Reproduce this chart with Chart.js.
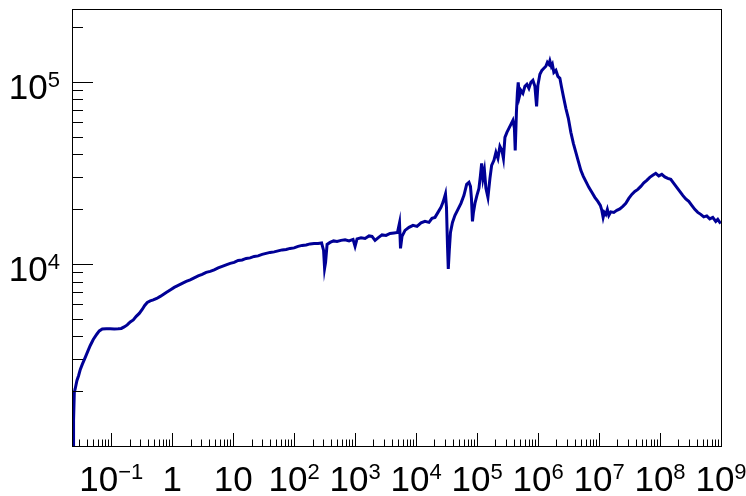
<!DOCTYPE html>
<html>
<head>
<meta charset="utf-8">
<script src="https://cdn.jsdelivr.net/npm/chart.js@4.4.0/dist/chart.umd.min.js"></script>
<style>
  body { margin: 0; background: #fff; }
  #wrap { width: 746px; height: 496px; }
</style>
</head>
<body>
<div id="wrap"><canvas id="spectrum"></canvas></div>
<script>
// values (log-log spectrum)
const energy = [
  0.0236, 0.0241, 0.0248, 0.0257, 0.0274, 0.0292, 0.0311, 0.0335, 0.0375, 0.0412,
  0.0453, 0.0507, 0.0583, 0.0637, 0.0713, 0.0829, 0.0964, 0.112, 0.130, 0.146,
  0.163, 0.183, 0.205, 0.230, 0.257, 0.288, 0.322, 0.354, 0.390, 0.436,
  0.489, 0.557, 0.636, 0.712, 0.797, 0.927, 1.078, 1.254, 1.458, 1.696,
  1.972, 2.294, 2.667, 3.101, 3.606, 4.195, 4.877, 5.672, 6.596, 7.67,
  8.92, 10.37, 12.06, 14.03, 16.31, 18.97, 22.06, 25.65, 29.83, 34.7,
  40.35, 46.9, 54.55, 63.45, 73.8, 85.8, 99.8, 116, 135, 157,
  182.5, 212, 246.7, 281.6, 303.7, 315.4, 327.5, 346.6, 388, 443,
  505, 588, 684, 795, 924, 997, 1074, 1250, 1453, 1690,
  1892, 2120, 2374, 2760, 3210, 3733, 4341, 4954, 5343, 5546,
  5870, 6575, 7643, 8892, 10337, 12023, 13980, 16255, 18200, 20390,
  22830, 25565, 27570, 29170, 30300, 31470, 32680, 33690, 34990, 36590,
  39450, 43350, 48550, 54370, 60900, 67440, 73560, 77870, 80800, 83930,
  87100, 92210, 99450, 107200, 113500, 118750, 124700, 131900, 139600, 150600,
  162400, 173200, 188900, 203700, 219600, 236800, 255400, 270300, 286100, 308300,
  332400, 358600, 386700, 409300, 421900, 441400, 458300, 472400, 494300, 523100,
  564100, 608100, 655900, 707400, 762800, 822400, 887100, 945600, 993100, 1071000,
  1155000, 1246000, 1343000, 1421000, 1504000, 1562000, 1652000, 1717000, 1816000, 1959000,
  2113000, 2279000, 2410000, 2600000, 2857000, 3138000, 3449000, 3791000, 4165000, 4577000,
  5030000, 5523000, 6074000, 6805000, 7621000, 8531000, 9550000, 10500000, 11110000, 11670000,
  12220000, 12920000, 13680000, 14470000, 15600000, 17470000, 19570000, 21910000, 24550000, 27480000,
  30760000, 34440000, 38600000, 43250000, 48400000, 54200000, 60670000, 67920000, 76030000, 85110000,
  95400000, 106900000, 119700000, 134000000, 150000000, 168100000, 188200000, 210900000, 236000000, 264300000,
  296000000, 331400000, 371500000, 416000000, 465600000, 521800000, 584300000, 654600000, 732800000, 820400000,
  885100000, 954600000, 1000000000
];
const counts = [
  1020, 1380, 1968, 2070, 2291, 2440, 2632, 2805, 3064, 3307,
  3565, 3846, 4124, 4285, 4395, 4405, 4405, 4395, 4405, 4422,
  4508, 4623, 4800, 4923, 5150, 5346, 5623, 5916, 6144, 6263,
  6340, 6463, 6629, 6795, 6970, 7197, 7430, 7620, 7816, 8015,
  8166, 8376, 8592, 8757, 8982, 9095, 9268, 9506, 9689, 9874,
  10063, 10190, 10452, 10519, 10720, 10790, 10995, 11066, 11276, 11420,
  11565, 11641, 11788, 11938, 12014, 12167, 12246, 12479, 12637, 12717,
  12879, 12960, 12960, 13043, 11864, 9447, 10190, 12797, 13122, 13378,
  13294, 13466, 13553, 13378, 13637, 12479, 13722, 13899, 13804, 14251,
  14159, 13466, 13899, 14432, 14341, 14710, 14803, 14896, 16801, 12167,
  14159, 15276, 15867, 16273, 16069, 16801, 17122, 16904, 17783, 18010,
  19187, 20437, 21777, 23198, 24240, 20437, 12637, 9387, 11864, 14896,
  16904, 18475, 19934, 21500, 23783, 27346, 28040, 26660, 22910, 17122,
  19187, 21500, 23783, 25990, 30640, 35660, 29500, 32640, 25990, 23198,
  29500, 34770, 37040, 41000, 37990, 44220, 42030, 37990, 49540, 52790,
  55540, 58420, 61440, 55540, 42030, 67990, 87580, 99380, 83240, 89810,
  86460, 94470, 96900, 92100, 99380, 101900, 94470, 73350, 95680, 109950,
  115660, 118660, 121700, 127990, 124800, 130470, 121700, 124800, 112760, 115660,
  107200, 104520, 94470, 83240, 71530, 63030, 52790, 45920, 41000, 36580,
  32640, 30260, 28400, 26320, 24720, 23198, 22050, 20960, 19680, 18010,
  19187, 18710, 19934, 18475, 19310, 19187, 19680, 20060, 20700, 21500,
  22900, 24090, 25020, 25660, 26660, 27860, 28760, 29880, 30640, 31430,
  30450, 31030, 30060, 29500, 29130, 27690, 26320, 25020, 23783, 22760,
  22050, 20960, 19934, 19187, 18710, 18130, 18360, 17680, 18010, 17122,
  17560, 16904, 17122
];

const xRange = [0.0236, 1e9];
const yRange = [1000, 2.48e5];

// labelled decades: base text and superscript
const xMajorTicks = [0.1, 1, 10, 1e2, 1e3, 1e4, 1e5, 1e6, 1e7, 1e8, 1e9];
const xTickBase = ['10', '1', '10', '10', '10', '10', '10', '10', '10', '10', '10'];
const xTickExp = ['\u22121', '', '', '2', '3', '4', '5', '6', '7', '8', '9'];
const yMajorTicks = [1e4, 1e5];
const yTickBase = ['10', '10'];
const yTickExp = ['4', '5'];

const FONT = '"Liberation Sans", Arial, Helvetica, sans-serif';
const BASE_SIZE = 35;
const EXP_SIZE = 22;

function labelWidth(ctx, base, exp) {
    ctx.font = BASE_SIZE + 'px ' + FONT;
    let w = ctx.measureText(base).width;
    if (exp) {
        ctx.font = EXP_SIZE + 'px ' + FONT;
        w += ctx.measureText(exp).width;
    }
    return w;
}

function drawLabel(ctx, base, exp, left, baseline) {
    ctx.font = BASE_SIZE + 'px ' + FONT;
    ctx.fillText(base, left, baseline);
    if (exp) {
        const bw = ctx.measureText(base).width;
        ctx.font = EXP_SIZE + 'px ' + FONT;
        ctx.fillText(exp, left + bw, baseline - 12);
    }
}

// ROOT-like frame, inner ticks and labels
const rootAxes = {
    id: 'rootAxes',
    afterDraw(chart) {
        const { ctx, chartArea: a, scales: { x, y } } = chart;
        ctx.save();
        ctx.strokeStyle = '#000';
        ctx.lineWidth = 1;
        ctx.strokeRect(a.left - 0.5, a.top - 0.5, a.right - a.left + 1, a.bottom - a.top + 1);

        ctx.beginPath();
        for (let d = -2; d <= 9; d++) {
            for (let m = 1; m <= 9; m++) {
                const v = m * Math.pow(10, d);
                if (v <= xRange[0] || v >= xRange[1]) continue;
                const px = Math.round(x.getPixelForValue(v)) + 0.5;
                const len = m === 1 ? 13 : 6.5;
                ctx.moveTo(px, a.bottom);
                ctx.lineTo(px, a.bottom - len);
            }
        }
        for (let d = 3; d <= 5; d++) {
            for (let m = 1; m <= 9; m++) {
                const v = m * Math.pow(10, d);
                if (v <= yRange[0] || v >= yRange[1]) continue;
                const py = Math.round(y.getPixelForValue(v)) + 0.5;
                const len = m === 1 ? 20 : 10;
                ctx.moveTo(a.left, py);
                ctx.lineTo(a.left + len, py);
            }
        }
        ctx.stroke();

        ctx.fillStyle = '#000';
        ctx.textBaseline = 'alphabetic';
        ctx.textAlign = 'left';
        xMajorTicks.forEach((v, i) => {
            const px = x.getPixelForValue(v);
            const w = labelWidth(ctx, xTickBase[i], xTickExp[i]);
            drawLabel(ctx, xTickBase[i], xTickExp[i], px - w / 2, 491);
        });
        yMajorTicks.forEach((v, i) => {
            const py = y.getPixelForValue(v);
            const w = labelWidth(ctx, yTickBase[i], yTickExp[i]);
            drawLabel(ctx, yTickBase[i], yTickExp[i], 60 - w, py + 17);
        });
        ctx.restore();
    }
};

new Chart(document.getElementById('spectrum'), {
    type: 'line',
    data: {
        datasets: [{
            data: energy.map((e, i) => ({ x: e, y: counts[i] })),
            borderColor: '#000096',
            borderWidth: 3,
            pointRadius: 0,
            tension: 0,
            fill: false
        }]
    },
    options: {
        responsive: true,
        maintainAspectRatio: false,
        animation: false,
        layout: { padding: { left: 73, right: 25, top: 10, bottom: 50 } },
        plugins: { legend: { display: false }, tooltip: { enabled: false } },
        scales: {
            x: { type: 'logarithmic', min: xRange[0], max: xRange[1], display: false },
            y: { type: 'logarithmic', min: yRange[0], max: yRange[1], display: false }
        }
    },
    plugins: [rootAxes]
});
</script>
</body>
</html>
